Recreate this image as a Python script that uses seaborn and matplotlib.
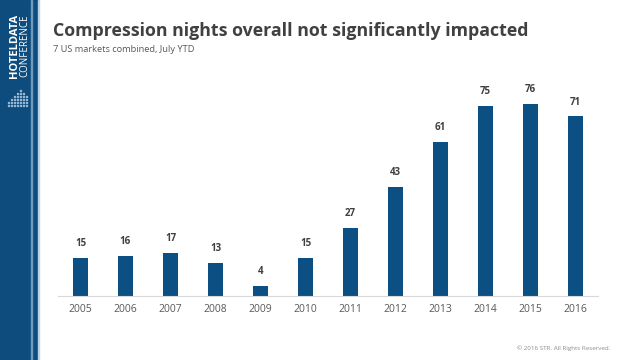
import numpy as np
import pandas as pd
import seaborn as sns
import matplotlib.pyplot as plt
from matplotlib.patches import Rectangle

# Chart values
years = ["2005", "2006", "2007", "2008", "2009", "2010",
         "2011", "2012", "2013", "2014", "2015", "2016"]
nights = [15, 16, 17, 13, 4, 15, 27, 43, 61, 75, 76, 71]

title = "Compression nights overall not significantly impacted"
subtitle = "7 US markets combined, July YTD"
footer = "\u00a9 2016 STR. All Rights Reserved."

df = pd.DataFrame({"year": years, "nights": nights})

sns.set_style("white")
plt.rcParams["font.family"] = ["Open Sans", "DejaVu Sans"]

bar_color = "#0b4f83"
side_color = "#0d4c7d"

fig = plt.figure(figsize=(6.4, 3.6), dpi=100)

# Left sidebar
fig.patches.append(Rectangle((0, 0), 38 / 640, 1, transform=fig.transFigure,
                             color=side_color, zorder=0))
fig.patches.append(Rectangle((31 / 640, 0), 1 / 640, 1, transform=fig.transFigure,
                             color="#6f9cbc", zorder=1))
fig.patches.append(Rectangle((38 / 640, 0), 1 / 640, 1, transform=fig.transFigure,
                             color="#bcd3e6", zorder=1))
fig.text(15 / 640, 1 - 46 / 360, "HOTELDATA", rotation=90, color="white",
         fontsize=8, fontweight="bold", ha="center", va="center")
fig.text(25 / 640, 1 - 46 / 360, "CONFERENCE", rotation=90, color="white",
         fontsize=7, ha="center", va="center")
# little equaliser dots
for i, h in enumerate([2, 3, 4, 5, 6, 5, 4]):
    for j in range(h):
        fig.patches.append(Rectangle(((8 + i * 3) / 640, (360 - 106 + j * 3) / 360),
                                     1.2 / 640, 1.2 / 360, transform=fig.transFigure,
                                     color="#9fbdd6", zorder=2))

# Titles
fig.text(53 / 640, 1 - 31 / 360, title, fontsize=12.8, fontweight="bold",
         color="#404040", va="center", ha="left")
fig.text(53 / 640, 1 - 49 / 360, subtitle, fontsize=6.7, color="#595959",
         va="center", ha="left")
fig.text(610 / 640, 1 - 348 / 360, footer, fontsize=4.5, color="#8c8c8c",
         va="center", ha="right")

ax = fig.add_axes([58 / 640, 64 / 360, 540 / 640, 236 / 360])
sns.barplot(data=df, x="year", y="nights", color=bar_color, width=0.33,
            saturation=1, linewidth=0, ax=ax)
ax.set_xlim(-0.5, len(years) - 0.5)
ax.set_ylim(0, 93.3)

for i, v in enumerate(nights):
    ax.text(i, v + 3.5, str(v), ha="center", va="bottom", fontsize=7,
            fontweight="bold", color="#404040")

ax.set_xlabel("")
ax.set_ylabel("")
ax.set_yticks([])
ax.tick_params(axis="x", length=0, labelsize=7.5, labelcolor="#595959", pad=6)
sns.despine(ax=ax, left=True, top=True, right=True)
ax.spines["bottom"].set_color("#d9d9d9")
ax.spines["bottom"].set_linewidth(0.8)

fig.savefig("out.png", dpi=100)
